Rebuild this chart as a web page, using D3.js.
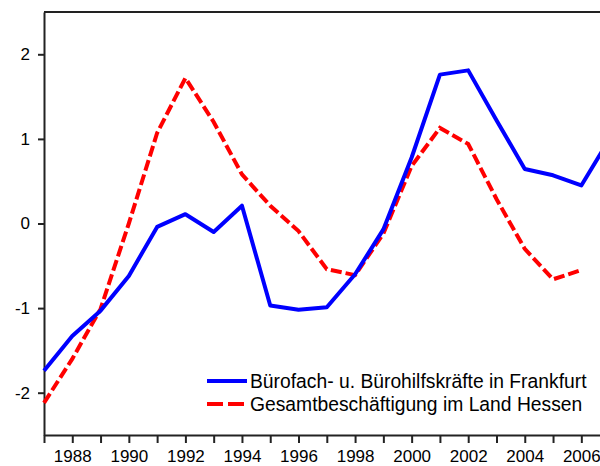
<!DOCTYPE html>
<html>
<head>
<meta charset="utf-8">
<script src="https://cdn.jsdelivr.net/npm/d3@7"></script>
<style>
  body { margin: 0; background: #fff; }
  svg { display: block; font-family: "Liberation Sans", Arial, sans-serif; }
  .axis path, .axis line { stroke: #222; stroke-width: 2; }
  .axis text { fill: #000; font-size: 17px; }
  .legend text { fill: #000; font-size: 19.3px; }
</style>
</head>
<body>
<svg class="chart"></svg>
<script>
// data
const years = [1987, 1988, 1989, 1990, 1991, 1992, 1993, 1994, 1995, 1996, 1997,
  1998, 1999, 2000, 2001, 2002, 2003, 2004, 2005, 2006, 2007];
const frankfurt = [-1.74, -1.33, -1.03, -0.62, -0.04, 0.11, -0.10, 0.21, -0.97, -1.02, -0.99,
  -0.60, -0.07, 0.78, 1.76, 1.81, 1.22, 0.645, 0.57, 0.45, 1.0];
const hessen = [-2.12, -1.60, -1.01, 0.0, 1.07, 1.72, 1.20, 0.58, 0.21, -0.09, -0.54,
  -0.61, -0.12, 0.68, 1.13, 0.94, 0.29, -0.30, -0.66, -0.55, null];
const yTicks = [-2, -1, 0, 1, 2];
const seriesNames = ["Bürofach- u. Bürohilfskräfte in Frankfurt", "Gesamtbeschäftigung im Land Hessen"];

function entryPoint() {
  let spec = {
    width: 600,
    height: 466,
    left: 44,
    top: 12,
    bottom: 435
  };
  new LineChart(spec);
}

class LineChart {
  constructor(spec) {
    this.spec = spec;
    this.initSpace();
    this.initScale();
    this.initAxis();
    this.drawLines();
    this.drawLegend();
  }

  initSpace() {
    this.svg = d3.select(".chart")
      .attr("width", this.spec.width)
      .attr("height", this.spec.height);
  }

  initScale() {
    // one year is about 28.3 px; the plot runs past the right edge of the picture
    this.x = d3.scaleLinear()
      .domain([1987, 2008])
      .range([this.spec.left, this.spec.left + 21 * 28.28]);
    this.y = d3.scaleLinear()
      .domain([-2.5, 2.5])
      .range([this.spec.bottom, this.spec.top]);
  }

  initAxis() {
    let s = this.spec;
    this.svg.append("g")
      .attr("class", "axis")
      .attr("transform", `translate(0, ${s.bottom})`)
      .call(d3.axisBottom(this.x)
        .tickValues(d3.range(1987, 2009))
        .tickFormat((d) => d % 2 === 0 && d < 2008 ? d : "")
        .tickSize(8)
        .tickSizeOuter(0)
        .tickPadding(7));

    this.svg.append("g")
      .attr("class", "axis")
      .attr("transform", `translate(${s.left}, 0)`)
      .call(d3.axisLeft(this.y)
        .tickValues(yTicks)
        .tickFormat((d) => String(d)) // plain hyphen like the original
        .tickSize(6)
        .tickSizeOuter(0)
        .tickPadding(8));

    // top frame line
    this.svg.append("line")
      .attr("x1", s.left).attr("x2", s.width + 10)
      .attr("y1", s.top).attr("y2", s.top)
      .attr("stroke", "#222").attr("stroke-width", 2);
  }

  drawLines() {
    let line = d3.line()
      .defined((d) => d.v !== null)
      .x((d) => this.x(d.year))
      .y((d) => this.y(d.v));

    let hessenData = years.map((year, i) => ({year, v: hessen[i]}));
    let frankfurtData = years.map((year, i) => ({year, v: frankfurt[i]}));

    this.svg.append("path")
      .datum(hessenData)
      .attr("d", line)
      .attr("fill", "none")
      .attr("stroke", "#ff0000")
      .attr("stroke-width", 4)
      .attr("stroke-dasharray", "11 4");

    this.svg.append("path")
      .datum(frankfurtData)
      .attr("d", line)
      .attr("fill", "none")
      .attr("stroke", "#0000ff")
      .attr("stroke-width", 4)
      .attr("stroke-linejoin", "round");
  }

  drawLegend() {
    let legend = this.svg.append("g").attr("class", "legend");
    let items = [
      {name: seriesNames[0], color: "#0000ff", dash: null, y: 381},
      {name: seriesNames[1], color: "#ff0000", dash: "16 5", y: 404}
    ];
    items.forEach((it) => {
      legend.append("line")
        .attr("x1", 207).attr("x2", 247)
        .attr("y1", it.y).attr("y2", it.y)
        .attr("stroke", it.color)
        .attr("stroke-width", 4)
        .attr("stroke-dasharray", it.dash);
      legend.append("text")
        .attr("x", 250)
        .attr("y", it.y + 7)
        .text(it.name);
    });
  }
}

entryPoint();
</script>
</body>
</html>
